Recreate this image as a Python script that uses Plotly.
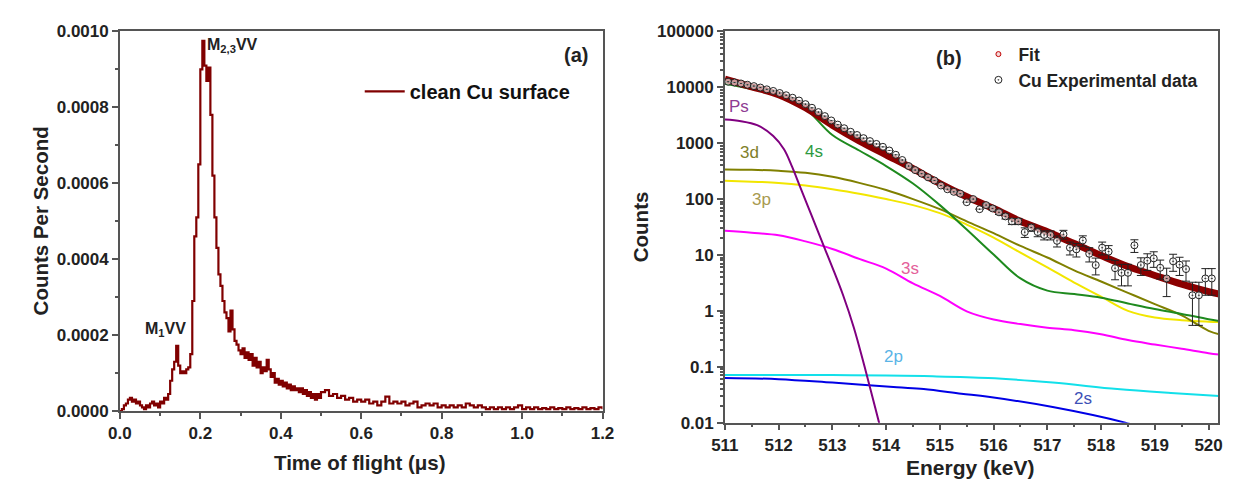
import plotly.graph_objects as go

# ---------------- Panel (a): time-of-flight spectrum ----------------
tof_us = [0.000, 0.005, 0.010, 0.015, 0.020, 0.025, 0.030, 0.035, 0.040, 0.045,
          0.050, 0.055, 0.060, 0.065, 0.070, 0.075, 0.080, 0.085, 0.090, 0.095,
          0.100, 0.105, 0.110, 0.115, 0.120, 0.125, 0.130, 0.135, 0.140, 0.145,
          0.150, 0.155, 0.160, 0.165, 0.170, 0.175, 0.180, 0.185, 0.190, 0.195,
          0.200, 0.205, 0.210, 0.215, 0.220, 0.225, 0.230, 0.235, 0.240, 0.245,
          0.250, 0.255, 0.260, 0.265, 0.270, 0.275, 0.280, 0.285, 0.290, 0.295,
          0.300, 0.305, 0.310, 0.315, 0.320, 0.325, 0.330, 0.335, 0.340, 0.345,
          0.350, 0.355, 0.360, 0.365, 0.370, 0.375, 0.380, 0.385, 0.390, 0.395,
          0.400, 0.405, 0.410, 0.415, 0.420, 0.425, 0.430, 0.435, 0.440, 0.445,
          0.450, 0.455, 0.460, 0.465, 0.470, 0.475, 0.480, 0.485, 0.490, 0.495,
          0.500, 0.51, 0.52, 0.53, 0.54, 0.55, 0.56, 0.57, 0.58, 0.59,
          0.60, 0.61, 0.62, 0.63, 0.64, 0.65, 0.66, 0.67, 0.68, 0.69,
          0.70, 0.71, 0.72, 0.73, 0.74, 0.75, 0.76, 0.77, 0.78, 0.79,
          0.80, 0.81, 0.82, 0.83, 0.84, 0.85, 0.86, 0.87, 0.88, 0.89,
          0.90, 0.91, 0.92, 0.93, 0.94, 0.95, 0.96, 0.97, 0.98, 0.99,
          1.00, 1.01, 1.02, 1.03, 1.04, 1.05, 1.06, 1.07, 1.08, 1.09,
          1.10, 1.11, 1.12, 1.13, 1.14, 1.15, 1.16, 1.17, 1.18, 1.19, 1.20]

# counts per second, in units of 1e-4
cps_1e4 = [0.00, 0.05, 0.15, 0.20, 0.30, 0.35, 0.25, 0.30, 0.20, 0.25,
           0.15, 0.10, 0.05, 0.15, 0.10, 0.20, 0.25, 0.15, 0.20, 0.10,
           0.25, 0.20, 0.35, 0.30, 0.45, 0.80, 1.10, 1.30, 1.72, 1.20,
           1.00, 1.05, 1.00, 1.10, 1.15, 1.50, 2.90, 4.60, 5.10, 6.50,
           9.00, 9.75, 9.10, 8.70, 9.05, 7.80, 6.20, 5.10, 4.30, 3.60,
           3.30, 2.90, 2.60, 2.45, 2.10, 2.65, 2.15, 1.85, 1.75, 1.60,
           1.50, 1.65, 1.40, 1.55, 1.35, 1.50, 1.20, 1.40, 1.15, 1.30,
           1.00, 1.15, 1.05, 1.35, 1.10, 0.90, 1.00, 0.75, 0.85, 0.70,
           0.80, 0.65, 0.75, 0.60, 0.70, 0.55, 0.65, 0.55, 0.60, 0.50,
           0.60, 0.45, 0.55, 0.40, 0.50, 0.35, 0.45, 0.30, 0.45, 0.35,
           0.50, 0.55, 0.40, 0.45, 0.35, 0.40, 0.30, 0.35, 0.25, 0.30,
           0.25, 0.30, 0.20, 0.25, 0.15, 0.25, 0.38, 0.20, 0.25, 0.20,
           0.25, 0.15, 0.20, 0.25, 0.10, 0.15, 0.20, 0.15, 0.20, 0.10,
           0.15, 0.10, 0.15, 0.10, 0.15, 0.10, 0.20, 0.15, 0.10, 0.15,
           0.10, 0.05, 0.10, 0.05, 0.10, 0.05, 0.10, 0.05, 0.10, 0.15,
           0.05, 0.10, 0.05, 0.10, 0.05, 0.08, 0.05, 0.10, 0.05, 0.08,
           0.05, 0.10, 0.05, 0.08, 0.05, 0.10, 0.05, 0.08, 0.05, 0.10, 0.05]
cps = [v * 1e-4 for v in cps_1e4]

# ---------------- Panel (b): energy spectrum ----------------
exp_energy = [511.06, 511.18, 511.30, 511.42, 511.54, 511.66, 511.78, 511.90, 512.02, 512.14,
              512.26, 512.38, 512.50, 512.62, 512.74, 512.86, 512.98, 513.10, 513.22, 513.34,
              513.46, 513.58, 513.70, 513.82, 513.94, 514.06, 514.18, 514.30, 514.42, 514.54,
              514.66, 514.78, 514.90, 515.02, 515.14, 515.26, 515.38, 515.50, 515.62, 515.74,
              515.86, 515.98, 516.10, 516.22, 516.34, 516.46, 516.58, 516.70, 516.82, 516.94,
              517.06, 517.18, 517.30, 517.42, 517.54, 517.66, 517.78, 517.90, 518.02, 518.14,
              518.26, 518.38, 518.50, 518.62, 518.74, 518.86, 518.98, 519.10, 519.22, 519.34,
              519.46, 519.58, 519.70, 519.82, 519.94, 520.06]
exp_counts = [12600, 12200, 11700, 11100, 10500, 9900, 9200, 8600, 7900, 7200,
              6500, 5800, 5000, 4300, 3600, 3050, 2550, 2150, 1850, 1600,
              1400, 1230, 1090, 970, 860, 740, 620, 500, 390, 330,
              285, 245, 215, 175, 150, 135, 125, 88, 100, 66,
              78, 68, 58, 49, 40, 40, 25.6, 31, 25.7, 22.8,
              22.8, 17.9, 23.4, 13.5, 12.6, 18.2, 10.5, 6.6, 13.5, 11.5,
              5.8, 4.8, 4.8, 14.9, 6.6, 7.9, 8.7, 5.9, 3.8, 7.7,
              6.7, 5.6, 1.9, 1.9, 3.8, 3.8]
exp_err = [0, 0, 0, 0, 0, 0, 0, 0, 0, 0,
           0, 0, 0, 0, 0, 0, 0, 0, 0, 0,
           0, 0, 0, 0, 0, 0, 0, 0, 0, 0,
           0, 0, 0, 0, 0, 0, 0, 0, 0, 0,
           5, 5, 5, 5, 5, 5, 5, 4.5, 4.5, 4.2,
           4.2, 4.0, 4.2, 3.5, 3.4, 3.8, 3.0, 2.2, 3.5, 3.2,
           2.2, 2.0, 2.0, 3.8, 2.3, 2.6, 2.7, 2.2, 2.0, 2.6,
           2.4, 2.2, 1.35, 1.35, 1.9, 1.9]

comp_energy = [511.0, 511.5, 512.0, 512.5, 513.0, 513.5, 514.0, 514.5, 515.0, 515.5,
               516.0, 516.5, 517.0, 517.5, 518.0, 518.5, 519.0, 519.5, 520.0, 520.2]
fit_counts = [14000, 10200, 7400, 4300, 2100, 1100, 620, 350, 190, 110,
              68, 40, 26, 16, 9.8, 6.2, 4.3, 3.0, 2.2, 2.0]
s4_counts = [11600, 9300, 7100, 4100, 1400, 740, 390, 190, 78, 28.6,
             10.2, 3.8, 2.3, 2.0, 1.72, 1.36, 1.08, 0.88, 0.71, 0.66]
d3_counts = [340, 335, 320, 295, 250, 195, 145, 100, 66, 40,
             24.6, 14.5, 9.0, 5.3, 3.35, 2.1, 1.32, 0.83, 0.44, 0.38]
p3_counts = [213, 205, 195, 175, 150, 125, 100, 78, 56, 35,
             20.5, 11, 6.0, 3.2, 1.8, 1.0, 0.76, 0.68, 0.64, 0.63]
s3_counts = [27, 25, 22.5, 17.5, 12.8, 8.5, 5.7, 3.1, 1.85, 0.98,
             0.7, 0.58, 0.5, 0.45, 0.38, 0.30, 0.25, 0.21, 0.175, 0.165]

ps_energy = [511.0, 511.3, 511.6, 511.9, 512.1, 512.25, 512.4, 512.6, 512.8, 513.0,
             513.2, 513.4, 513.6, 513.8, 513.95]
ps_counts = [2650, 2480, 2100, 1350, 780, 380, 165, 55, 18, 6.0,
             1.9, 0.5, 0.1, 0.018, 0.005]

p2_energy = [511.0, 512.0, 513.0, 514.0, 514.7, 515.9, 517.1, 518.3, 519.3, 520.2]
p2_counts = [0.071, 0.071, 0.071, 0.070, 0.068, 0.063, 0.052, 0.040, 0.034, 0.030]

s2_energy = [511.0, 512.0, 513.0, 514.2, 514.7, 515.4, 515.9, 517.1, 518.45, 518.7]
s2_counts = [0.063, 0.060, 0.052, 0.043, 0.040, 0.033, 0.029, 0.019, 0.0100, 0.0085]

log_tick_vals = [0.01, 0.1, 1, 10, 100, 1000, 10000, 100000]
log_tick_text = ["0.01", "0.1", "1", "10", "100", "1000", "10000", "100000"]
log_minor_vals = [m * v for v in log_tick_vals[:-1] for m in range(2, 10)]

AX = "#555555"
FONT = "Liberation Sans, Arial, sans-serif"

fig = go.Figure()

# panel (a)
fig.add_trace(go.Scatter(x=tof_us, y=cps, mode="lines", line_shape="hv",
                         line=dict(color="#800000", width=2.2),
                         name="clean Cu surface", xaxis="x", yaxis="y", legend="legend"))

# panel (b) components
comps = [
    ("3s", comp_energy, s3_counts, "#ff00ff"),
    ("2p", p2_energy, p2_counts, "#12e0ea"),
    ("2s", s2_energy, s2_counts, "#0000e6"),
    ("3p", comp_energy, p3_counts, "#f2e600"),
    ("3d", comp_energy, d3_counts, "#808000"),
    ("4s", comp_energy, s4_counts, "#1e8a1e"),
    ("Ps", ps_energy, ps_counts, "#800080"),
]
for nm, xs, ys, col in comps:
    fig.add_trace(go.Scatter(x=xs, y=ys, mode="lines", line_shape="spline",
                             line=dict(color=col, width=2), name=nm, showlegend=False,
                             xaxis="x2", yaxis="y2"))

fig.add_trace(go.Scatter(x=comp_energy, y=fit_counts, mode="lines", line_shape="spline",
                         line=dict(color="#8b0000", width=7), name="Fit", showlegend=False,
                         xaxis="x2", yaxis="y2"))
fig.add_trace(go.Scatter(x=exp_energy, y=exp_counts, mode="markers",
                         marker=dict(symbol="circle-dot", size=7, color="rgba(255,255,255,0.6)",
                                     line=dict(color="#222222", width=1)),
                         error_y=dict(type="data", array=exp_err, visible=True,
                                      color="#222222", thickness=1, width=4),
                         name="Cu Experimental data", showlegend=False,
                         xaxis="x2", yaxis="y2"))
# legend entries for panel (b)
fig.add_trace(go.Scatter(x=[None], y=[None], mode="markers",
                         marker=dict(symbol="circle", size=5, color="#f4d8d8",
                                     line=dict(color="#c00000", width=1)),
                         name="Fit", xaxis="x2", yaxis="y2", legend="legend2"))
fig.add_trace(go.Scatter(x=[None], y=[None], mode="markers",
                         marker=dict(symbol="circle-dot", size=7, color="white",
                                     line=dict(color="#222222", width=1)),
                         name="Cu Experimental data", xaxis="x2", yaxis="y2", legend="legend2"))

tickfont = dict(family=FONT, size=17, color="#222222", weight="bold")
common_axis = dict(showline=True, linecolor=AX, linewidth=1.5, mirror=True,
                   ticks="outside", tickcolor=AX, tickwidth=1.5, ticklen=6,
                   showgrid=False, zeroline=False, tickfont=tickfont)

fig.update_layout(
    width=1234, height=490,
    margin=dict(l=0, r=0, t=0, b=0),
    paper_bgcolor="white", plot_bgcolor="white",
    font=dict(family=FONT, color="#222222"),
    xaxis=dict(domain=[100/1234, 593/1234], range=[0, 1.2], dtick=0.2, tickformat=".1f",
               minor=dict(ticks="outside", ticklen=3, tickcolor=AX, dtick=0.1),
               anchor="y", **common_axis),
    yaxis=dict(domain=[80/490, 475/490], range=[0, 0.001], dtick=0.0002, tickformat=".4f",
               minor=dict(ticks="outside", ticklen=3, tickcolor=AX, dtick=0.0001),
               anchor="x", **common_axis),
    xaxis2=dict(domain=[718/1234, 1222/1234], range=[511, 520.18], dtick=1,
                minor=dict(ticks="outside", ticklen=3, tickcolor=AX, dtick=0.5),
                anchor="y2", **common_axis),
    yaxis2=dict(domain=[68/490, 475/490], type="log", range=[-2, 5],
                tickvals=log_tick_vals, ticktext=log_tick_text,
                minor=dict(ticks="outside", ticklen=3, tickcolor=AX, tickvals=log_minor_vals),
                anchor="x2", **common_axis),
    legend=dict(x=345/1234, y=1-57/490, xanchor="left", yanchor="top",
                bgcolor="rgba(0,0,0,0)",
                font=dict(family=FONT, size=20, color="#111111", weight="bold"),
                itemwidth=40, tracegroupgap=0),
    legend2=dict(x=977/1234, y=1-20/490, xanchor="left", yanchor="top",
                 bgcolor="rgba(0,0,0,0)",
                 font=dict(family=FONT, size=17.5, color="#222222", weight="bold"),
                 itemwidth=30, tracegroupgap=0),
    showlegend=True,
)

ann = []
def txt(x, y, s, size, color="#222222", xref="paper", yref="paper", bold=True,
        xanchor="center", yanchor="middle", angle=0):
    ann.append(dict(x=x, y=y, xref=xref, yref=yref, text=(f"<b>{s}</b>" if bold else s),
                    showarrow=False, xanchor=xanchor, yanchor=yanchor, textangle=angle,
                    font=dict(family=FONT, size=size, color=color)))

# axis titles
txt(19/1234, 1-212/490, "Counts Per Second", 20.5, angle=-90)
txt(345/1234, 1-463/490, "Time of flight (μs)", 20.5)
txt(632/1234, 1-218/490, "Counts", 20.5, angle=-90)
txt(968/1234, 1-469/490, "Energy (keV)", 21)
# panel labels
txt(580/1234, 1-40/490, "(a)", 20, xanchor="right")
txt(947/1234, 1-43/490, "(b)", 20)
# peak labels
txt(215/1234, 1-30/490, "M<sub>2,3</sub>VV", 16)
txt(147/1234, 1-325/490, "M<sub>1</sub>VV", 16)
# component labels (data coords of panel b)
labels_b = [("Ps", 511.27, 3.66, "#8e3c93"), ("3d", 511.46, 2.84, "#7f7f2a"),
            ("4s", 512.66, 2.86, "#2e9a3e"), ("3p", 511.69, 1.99, "#a89a50"),
            ("3s", 514.44, 0.75, "#e4609a"), ("2p", 514.13, -0.82, "#5ab4e6"),
            ("2s", 517.67, -1.57, "#3d50b6")]
for s, ex, ly, col in labels_b:
    txt(ex, ly, s, 17, color=col, xref="x2", yref="y2", bold=False)

fig.update_layout(annotations=ann)
fig.write_html("out.html")
